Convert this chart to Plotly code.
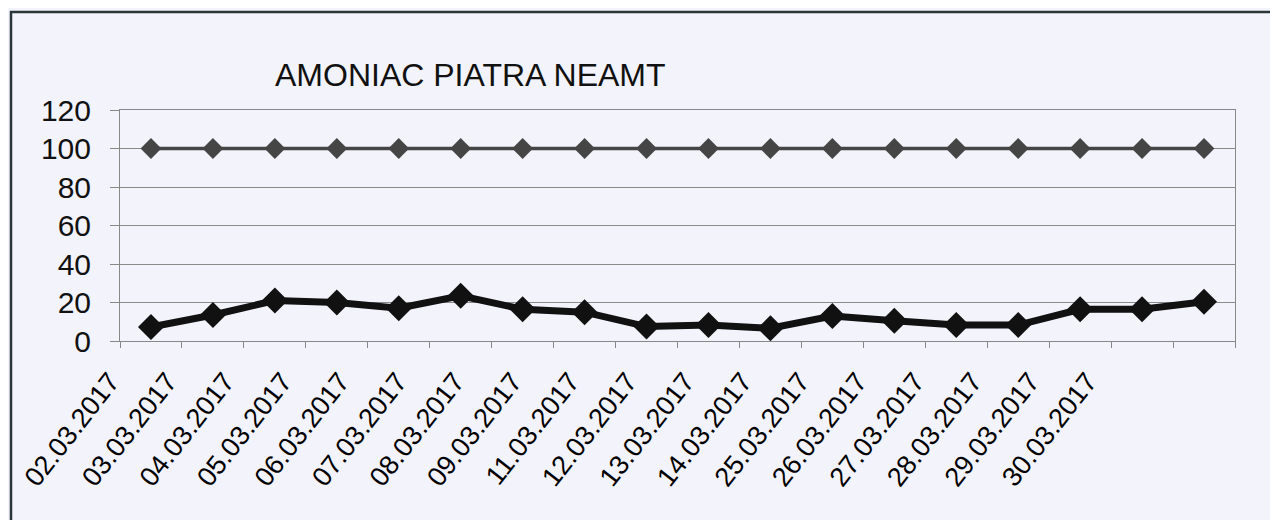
import plotly.graph_objects as go

dates = ["02.03.2017", "03.03.2017", "04.03.2017", "05.03.2017", "06.03.2017",
         "07.03.2017", "08.03.2017", "09.03.2017", "11.03.2017", "12.03.2017",
         "13.03.2017", "14.03.2017", "25.03.2017", "26.03.2017", "27.03.2017",
         "28.03.2017", "29.03.2017", "30.03.2017"]
limit_values = [100] * 18
ammonia_values = [7.3, 13.5, 21, 20, 17, 23.5, 16.5, 15, 7.5, 8.3,
                  6.6, 13, 10.5, 8.3, 8.3, 16.5, 16.5, 20.4]
y_ticks = [0, 20, 40, 60, 80, 100, 120]

BG = "#f3f3fb"
FONT = "Liberation Sans, Arial, sans-serif"

# figure is drawn inside a page with an 8px body margin
W, H = 1270, 512
L, R, T, B = 112, 43, 102, 179
PW, PH = W - L - R, H - T - B

fig = go.Figure()
fig.add_trace(go.Scatter(
    x=dates, y=limit_values, mode="lines+markers",
    line=dict(color="#454545", width=3.5),
    marker=dict(symbol="diamond", size=16, color="#454545"),
    showlegend=False, cliponaxis=False))
fig.add_trace(go.Scatter(
    x=dates, y=ammonia_values, mode="lines+markers",
    line=dict(color="#111111", width=7),
    marker=dict(symbol="diamond", size=20, color="#111111"),
    showlegend=False, cliponaxis=False))
# invisible trace carrying the label axis
fig.add_trace(go.Scatter(
    x=dates, y=[None] * len(dates), xaxis="x2", mode="markers",
    showlegend=False, hoverinfo="skip"))

label_step = 57.5  # px between labels in the reference
span = PW / label_step
r0 = -0.35

fig.update_layout(
    width=W, height=H,
    margin=dict(l=L, r=R, t=T, b=B, autoexpand=False),
    paper_bgcolor=BG, plot_bgcolor=BG,
    font=dict(family=FONT, color="#000000"),
    annotations=[dict(text="AMONIAC PIATRA NEAMT", xref="paper", yref="paper",
                      x=(265 - L) / PW, y=1 + (T - 67) / PH,
                      xanchor="left", yanchor="middle", showarrow=False,
                      font=dict(size=32, family=FONT, color="#111111"))],
    shapes=[dict(type="rect", xref="paper", yref="paper",
                 x0=-(L - 3) / PW, x1=1 + (R + 5) / PW,
                 y0=-(B + 5) / PH, y1=1 + (T - 4) / PH,
                 line=dict(color="#2a3535", width=2.5), layer="below")],
    xaxis2=dict(type="category", overlaying="x", side="bottom", anchor="y",
                range=[r0, r0 + span], showgrid=False, showline=False,
                automargin=False,
                ticks="", tickangle=-52, ticklabelstandoff=18,
                ticklabelshift=-30,
                tickfont=dict(size=27, family=FONT, color="#000000")),
)
fig.layout.xaxis.update(
    type="category", tickson="boundaries", showgrid=False,
    showline=True, linecolor="#888888", linewidth=1, mirror=True,
    ticks="outside", ticklen=6, tickcolor="#888888",
    showticklabels=False, automargin=False,
    range=[-0.5, len(dates) - 0.5])
fig.update_yaxes(
    range=[0, 120], tickvals=y_ticks, showgrid=True, gridcolor="#8a8a8a", gridwidth=1,
    showline=True, linecolor="#888888", linewidth=1, mirror=True,
    ticks="outside", ticklen=9, tickcolor="#888888", zeroline=False,
    ticklabelstandoff=13, automargin=False,
    tickfont=dict(size=30, family=FONT, color="#111111"))

fig.write_html("out.html")
